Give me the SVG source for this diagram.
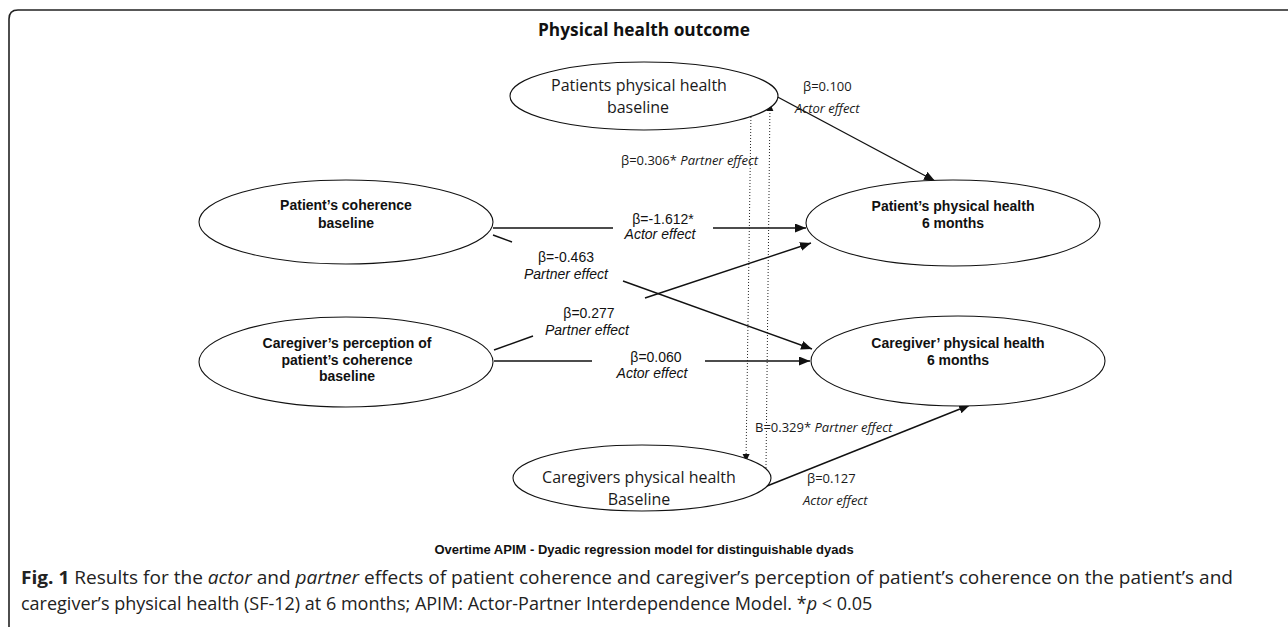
<svg xmlns="http://www.w3.org/2000/svg" width="1288" height="628" viewBox="0 0 1288 628">
<style>
  .node ellipse { fill: #ffffff; stroke: #111; stroke-width: 1.1; }
  .cal { font-family: "Open Sans", "Liberation Sans", sans-serif; font-size: 16px; fill: #1a1a1a; }
  .bold { font-family: "Liberation Sans", Arial, sans-serif; font-size: 14px; font-weight: bold; fill: #111; }
  .lab { font-family: "Liberation Sans", Arial, sans-serif; font-size: 14px; fill: #111; }
  .lab2 { font-family: "Open Sans", "Liberation Sans", sans-serif; font-size: 13px; fill: #1a1a1a; }
  .it { font-style: italic; }
  .edge { stroke: #111; stroke-width: 1.4; fill: none; }
  .dot { stroke: #222; stroke-width: 1; stroke-dasharray: 1 2; fill: none; }
  .title { font-family: "Open Sans", "Liberation Sans", sans-serif; font-size: 17px; font-weight: bold; fill: #111; }
  .sub { font-family: "Liberation Sans", Arial, sans-serif; font-size: 13px; font-weight: bold; fill: #111; }
  .cap { font-family: "Open Sans", "Liberation Sans", sans-serif; font-size: 18px; fill: #222; }
</style>
<defs>
  <marker id="arr" markerUnits="userSpaceOnUse" markerWidth="12" markerHeight="10" refX="11" refY="4.5" orient="auto">
    <path d="M0,0 L11,4.5 L0,9 Z" fill="#111"/>
  </marker>
  <marker id="arrs" markerUnits="userSpaceOnUse" markerWidth="9" markerHeight="8" refX="8" refY="3.5" orient="auto">
    <path d="M0,0 L8,3.5 L0,7 Z" fill="#111"/>
  </marker>
</defs>
<rect width="1288" height="628" fill="#ffffff"/>
<path d="M9,627 L9,19 Q9,10 18,10 L1288,10" fill="none" stroke="#222" stroke-width="1.6"/>
<text class="title" x="538" y="36" textLength="212" lengthAdjust="spacingAndGlyphs">Physical health outcome</text>

<g id="edges">
  <line class="edge" x1="772" y1="94" x2="935" y2="181" marker-end="url(#arr)"/>
  <line class="edge" x1="493" y1="228" x2="613" y2="228"/>
  <line class="edge" x1="713" y1="228" x2="806" y2="228" marker-end="url(#arr)"/>
  <line class="edge" x1="493" y1="235" x2="512" y2="242"/>
  <line class="edge" x1="623" y1="281" x2="812" y2="349" marker-end="url(#arr)"/>
  <line class="edge" x1="494" y1="350" x2="533" y2="336"/>
  <line class="edge" x1="645" y1="298" x2="811" y2="243" marker-end="url(#arr)"/>
  <line class="edge" x1="494" y1="361" x2="592" y2="361"/>
  <line class="edge" x1="705" y1="361" x2="810" y2="361" marker-end="url(#arr)"/>
  <line class="edge" x1="767" y1="486" x2="970" y2="405" marker-end="url(#arr)"/>
  <line class="dot" x1="751" y1="111" x2="746" y2="462" marker-end="url(#arrs)"/>
  <line class="dot" x1="766" y1="468" x2="770" y2="103" marker-end="url(#arrs)"/>
</g>

<g id="n1" class="node">
  <ellipse cx="644" cy="96" rx="134" ry="34"/>
  <text class="cal" x="639" y="91" text-anchor="middle">Patients physical health</text>
  <text class="cal" x="638" y="113" text-anchor="middle">baseline</text>
</g>
<g id="n2" class="node">
  <ellipse cx="346" cy="222" rx="147" ry="42"/>
  <text class="bold" x="346" y="210" text-anchor="middle">Patient’s coherence</text>
  <text class="bold" x="346" y="228" text-anchor="middle">baseline</text>
</g>
<g id="n3" class="node">
  <ellipse cx="346" cy="362" rx="147" ry="45"/>
  <text class="bold" x="347" y="348" text-anchor="middle">Caregiver’s perception of</text>
  <text class="bold" x="347" y="364.5" text-anchor="middle">patient’s coherence</text>
  <text class="bold" x="347" y="381" text-anchor="middle">baseline</text>
</g>
<g id="n4" class="node">
  <ellipse cx="953" cy="223" rx="147" ry="43"/>
  <text class="bold" x="953" y="211" text-anchor="middle">Patient’s physical health</text>
  <text class="bold" x="953" y="228" text-anchor="middle">6 months</text>
</g>
<g id="n5" class="node">
  <ellipse cx="958" cy="361" rx="147" ry="45"/>
  <text class="bold" x="958" y="348" text-anchor="middle">Caregiver’ physical health</text>
  <text class="bold" x="958" y="365" text-anchor="middle">6 months</text>
</g>
<g id="n6" class="node">
  <ellipse cx="642" cy="478" rx="129" ry="33"/>
  <text class="cal" x="639" y="483" text-anchor="middle">Caregivers physical health</text>
  <text class="cal" x="639" y="505" text-anchor="middle">Baseline</text>
</g>

<g id="labels">
  <text class="lab" x="663" y="224" text-anchor="middle">β=-1.612*</text>
  <text class="lab it" x="660" y="239" text-anchor="middle">Actor effect</text>
  <text class="lab" x="566" y="262" text-anchor="middle">β=-0.463</text>
  <text class="lab it" x="566" y="279" text-anchor="middle">Partner effect</text>
  <text class="lab" x="589" y="318" text-anchor="middle">β=0.277</text>
  <text class="lab it" x="587" y="335" text-anchor="middle">Partner effect</text>
  <text class="lab" x="656" y="362" text-anchor="middle">β=0.060</text>
  <text class="lab it" x="652" y="378" text-anchor="middle">Actor effect</text>
  <text class="lab2" x="621" y="164.5">β=0.306* <tspan class="it">Partner effect</tspan></text>
  <text class="lab2" x="803" y="90.5">β=0.100</text>
  <text class="lab2 it" x="795" y="112.5">Actor effect</text>
  <text class="lab2" x="755" y="431.5">B=0.329* <tspan class="it">Partner effect</tspan></text>
  <text class="lab2" x="807" y="482.5">β=0.127</text>
  <text class="lab2 it" x="803" y="504.5">Actor effect</text>
</g>

<text class="sub" x="644" y="554" text-anchor="middle">Overtime APIM - Dyadic regression model for distinguishable dyads</text>
<text class="cap" x="21" y="584" textLength="1212" lengthAdjust="spacingAndGlyphs"><tspan font-weight="bold">Fig. 1</tspan> Results for the <tspan class="it">actor</tspan> and <tspan class="it">partner</tspan> effects of patient coherence and caregiver’s perception of patient’s coherence on the patient’s and</text>
<text class="cap" x="21" y="610">caregiver’s physical health (SF-12) at 6 months; APIM: Actor-Partner Interdependence Model. *<tspan class="it">p</tspan> &lt; 0.05</text>
</svg>
